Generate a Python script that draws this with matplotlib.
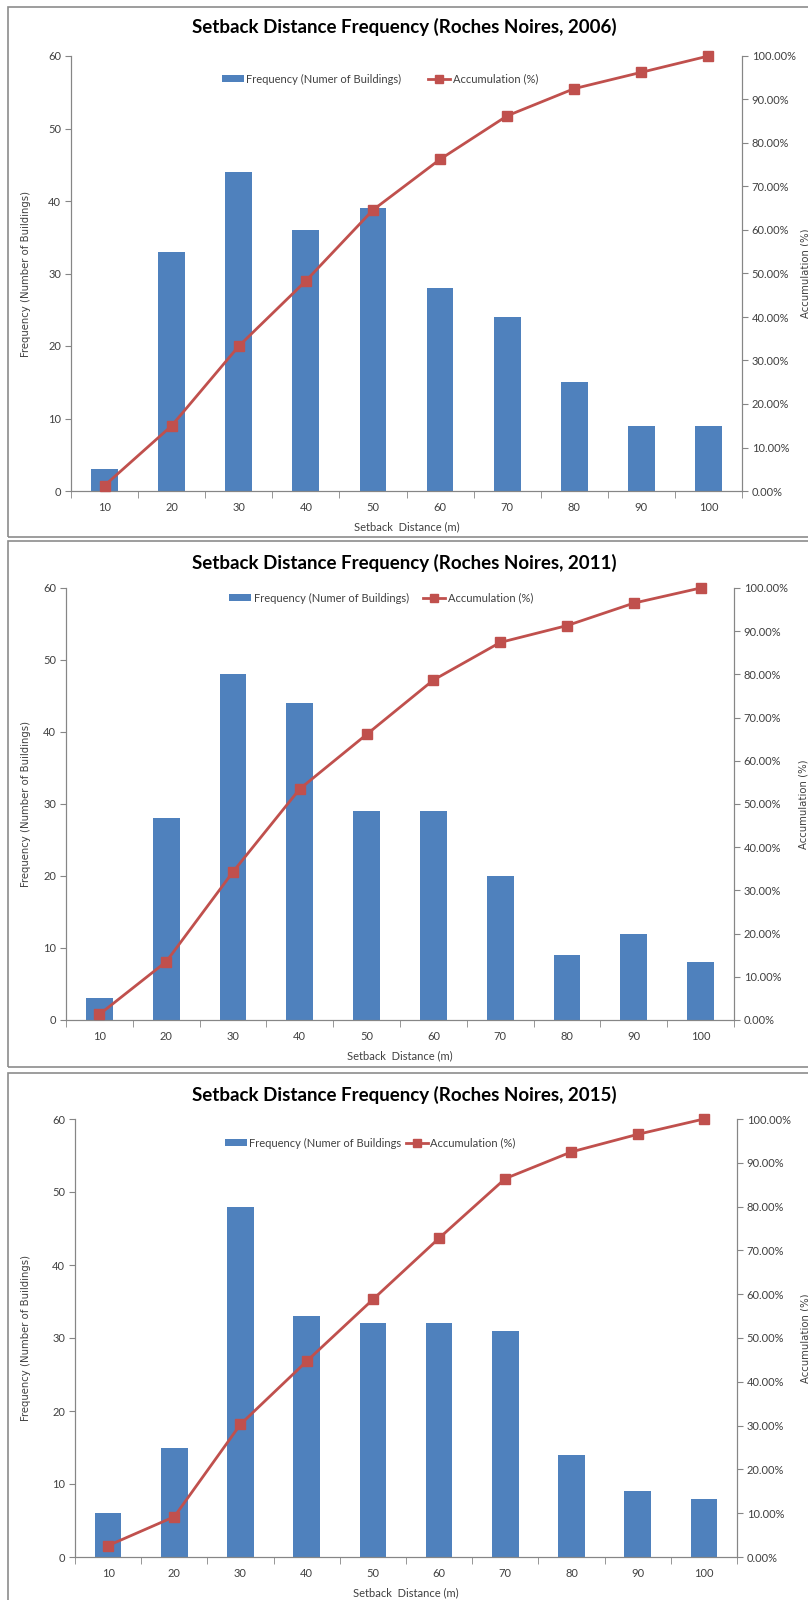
import matplotlib.pyplot as plt
from matplotlib.patches import Rectangle, Patch
from matplotlib.lines import Line2D
from matplotlib.ticker import FuncFormatter, FixedLocator

# data
distances = ['10', '20', '30', '40', '50', '60', '70', '80', '90', '100']

freq_2006 = [3, 33, 44, 36, 39, 28, 24, 15, 9, 9]
accum_2006 = [0.0125, 0.15, 0.333, 0.483, 0.646, 0.7625, 0.8625, 0.925, 0.9625, 1.0]

freq_2011 = [3, 28, 48, 44, 29, 29, 20, 9, 12, 8]
accum_2011 = [0.013, 0.135, 0.343, 0.535, 0.661, 0.787, 0.874, 0.913, 0.965, 1.0]

freq_2015 = [6, 15, 48, 33, 32, 32, 31, 14, 9, 8]
accum_2015 = [0.026, 0.092, 0.303, 0.447, 0.588, 0.728, 0.864, 0.925, 0.965, 1.0]

years = ['2006', '2011', '2015']
freq_labels = ['Frequency (Numer of Buildings)', 'Frequency (Numer of Buildings)',
               'Frequency (Numer of Buildings']

W, H = 808, 1600
BAR = '#4F81BD'
LINE = '#C0504D'
AXC = '#868686'
TXT = '#404040'

# layout in pixels
layout = [
    dict(l=71, r=742, t=56, b=491, ty=27, ly=79, lx=380, cs=2.4, ft=7, fb=537, rx=800),
    dict(l=66, r=734, t=588, b=1020, ty=563, ly=598, lx=381, cs=1.3, ft=541, fb=1067, rx=798),
    dict(l=75, r=737, t=1119, b=1557, ty=1095, ly=1143, lx=370, cs=0.4, ft=1073, fb=1604, rx=800),
]
all_freq = [freq_2006, freq_2011, freq_2015]
all_acc = [accum_2006, accum_2011, accum_2015]

fig = plt.figure(figsize=(W / 100, H / 100), dpi=100)
fig.patch.set_facecolor('white')

for i, lay in enumerate(layout):
    # outer frame of each chart
    fig.patches.append(Rectangle((8 / W, 1 - lay['fb'] / H), 820 / W, (lay['fb'] - lay['ft']) / H,
                                 transform=fig.transFigure, fill=False, edgecolor='#8c8c8c', lw=1.2))

    ax = fig.add_axes([lay['l'] / W, 1 - lay['b'] / H, (lay['r'] - lay['l']) / W, (lay['b'] - lay['t']) / H])
    x = list(range(len(distances)))
    ax.bar(x, all_freq[i], width=0.4, color=BAR, zorder=2)
    ax.set_xlim(-0.5, len(distances) - 0.5)
    ax.set_ylim(0, 60)
    ax.set_yticks([0, 10, 20, 30, 40, 50, 60])
    ax.set_xticks(x)
    ax.set_xticklabels(distances)
    ax.xaxis.set_minor_locator(FixedLocator([k - 0.5 for k in range(len(distances) + 1)]))
    ax.tick_params(axis='x', which='major', length=0, pad=8, labelsize=8, labelcolor=TXT)
    ax.tick_params(axis='x', which='minor', length=5, color=AXC, direction='out')
    ax.tick_params(axis='y', length=4, color=AXC, labelsize=8, labelcolor=TXT, pad=3)
    for lbl in ax.get_xticklabels() + ax.get_yticklabels():
        lbl.set_family('Lato')
    ax.spines['top'].set_visible(False)
    for s in ['left', 'bottom', 'right']:
        ax.spines[s].set_color(AXC)
    ax.set_xlabel('Setback  Distance (m)', family='Lato', fontsize=8, color=TXT, labelpad=6)
    ax.set_ylabel('Frequency (Number of Buildings)', family='DejaVu Sans', fontsize=7.3, color=TXT)
    ymid = 1 - (lay['t'] + lay['b']) / 2 / H
    ax.yaxis.set_label_coords(31 / W, ymid, transform=fig.transFigure)

    ax2 = ax.twinx()
    ax2.plot(x, all_acc[i], color=LINE, lw=2, marker='s', markersize=7, zorder=3, clip_on=False)
    ax2.set_ylim(0, 1)
    ax2.set_yticks([k / 10 for k in range(11)])
    ax2.yaxis.set_major_formatter(FuncFormatter(lambda v, p: f'{v * 100:.2f}%'))
    ax2.tick_params(axis='y', length=4, color=AXC, labelsize=8, labelcolor=TXT, pad=3)
    for lbl in ax2.get_yticklabels():
        lbl.set_family('Lato')
    ax2.spines['top'].set_visible(False)
    for s in ['left', 'bottom', 'right']:
        ax2.spines[s].set_color(AXC)
    ax2.set_ylabel('Accumulation (%)', family='DejaVu Sans', fontsize=7.3, color=TXT)
    ax2.yaxis.set_label_coords(lay['rx'] / W, ymid, transform=fig.transFigure)

    fig.text(0.5, 1 - lay['ty'] / H, f'Setback Distance Frequency (Roches Noires, {years[i]})',
             ha='center', va='center', family='Lato', fontweight='bold', fontsize=13.5, color='black')

    handles = [Patch(facecolor=BAR, edgecolor='none'),
               Line2D([], [], color=LINE, lw=2, marker='s', markersize=6)]
    fig.legend(handles, [freq_labels[i], 'Accumulation (%)'], loc='center',
               bbox_to_anchor=(lay['lx'] / W, 1 - lay['ly'] / H), ncol=2, frameon=False,
               prop={'family': 'Lato', 'size': 8}, handlelength=2.0, handleheight=0.6,
               handletextpad=0.2, columnspacing=lay['cs'], labelcolor=TXT)

plt.savefig('out.png', dpi=100)
